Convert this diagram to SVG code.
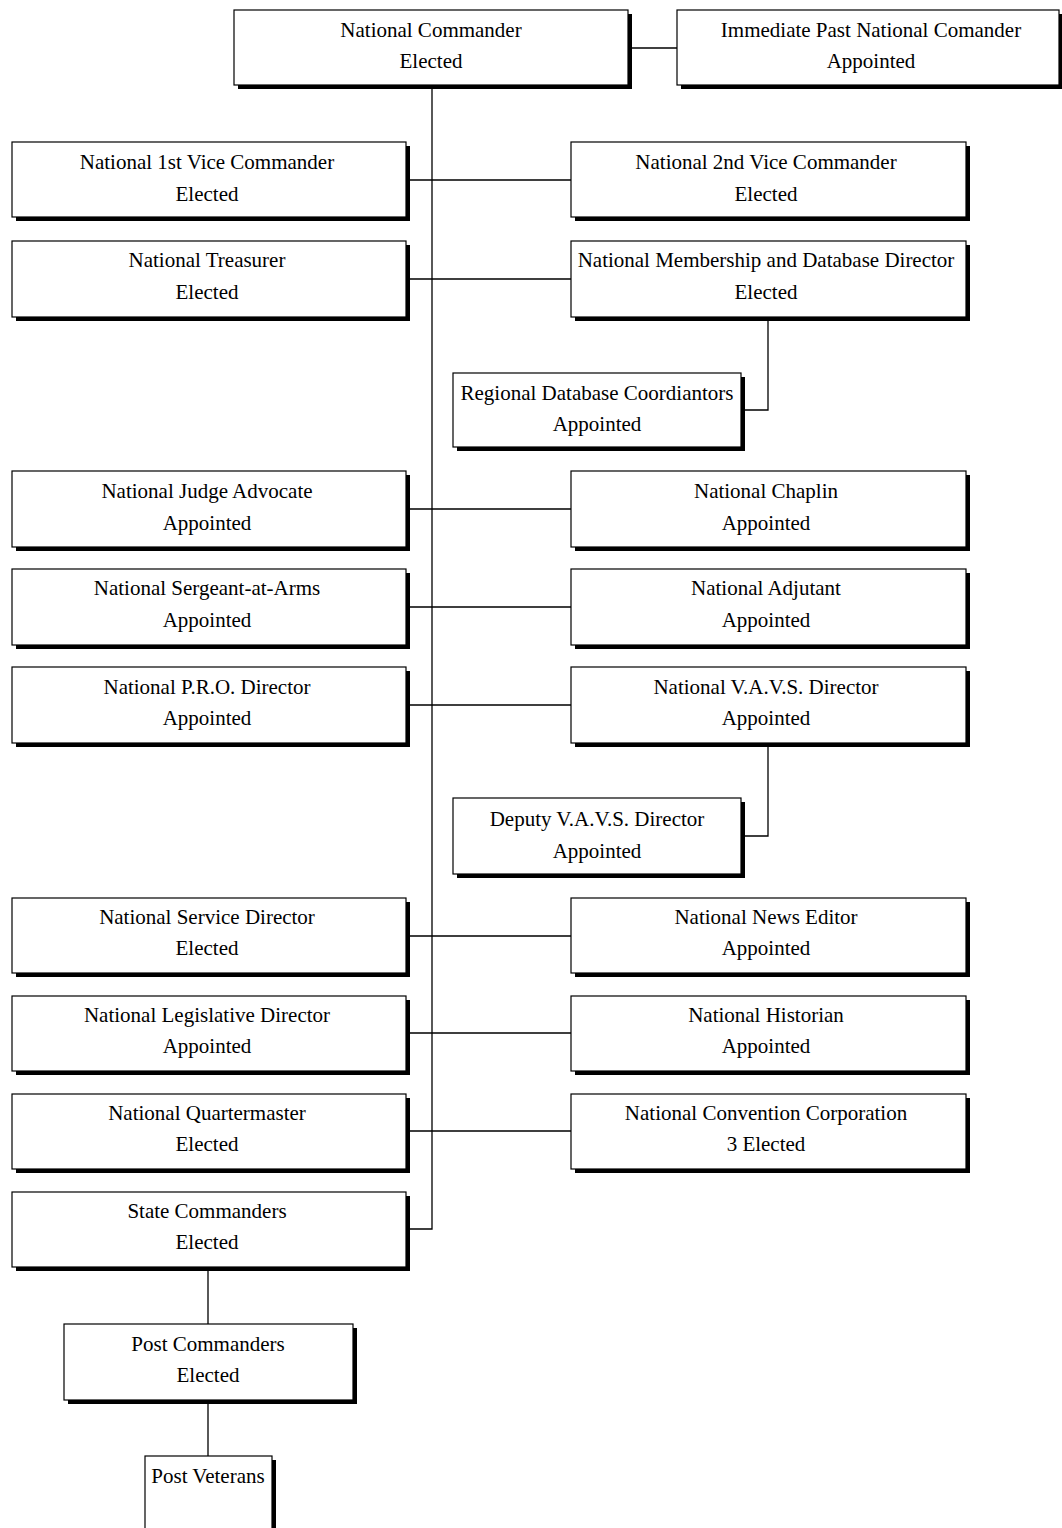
<svg xmlns="http://www.w3.org/2000/svg" width="1062" height="1528" viewBox="0 0 1062 1528">
<style>
.sh{fill:#000}
.bx{fill:#fff;stroke:#000;stroke-width:1.2}
text{font-family:"Liberation Serif","Times New Roman",serif;font-size:21px;fill:#000;text-anchor:middle}
.ln{stroke:#000;stroke-width:1.3;fill:none}
</style>
<rect width="1062" height="1528" fill="#fff"/>
<g id="connectors">
<path class="ln" d="M432 85 V1229 H406"/>
<path class="ln" d="M628 48 H677"/>
<path class="ln" d="M406 180 H571 M406 279 H571 M406 509 H571 M406 607 H571 M406 705 H571 M406 936 H571 M406 1033 H571 M406 1131 H571"/>
<path class="ln" d="M768 317 V410 H741"/>
<path class="ln" d="M768 743 V836 H741"/>
<path class="ln" d="M208 1267 V1324 M208 1400 V1456"/>
</g>
<g id="n-nc"><rect class="sh" x="238" y="14" width="394" height="75"/><rect class="bx" x="234" y="10" width="394" height="75"/><text x="431" y="37">National Commander</text><text x="431" y="68">Elected</text></g>
<g id="n-ip"><rect class="sh" x="681" y="14" width="382" height="75"/><rect class="bx" x="677" y="10" width="382" height="75"/><text x="871" y="37">Immediate Past National Comander</text><text x="871" y="68">Appointed</text></g>
<g id="n-v1"><rect class="sh" x="16" y="146" width="394" height="75"/><rect class="bx" x="12" y="142" width="394" height="75"/><text x="207" y="169">National 1st Vice Commander</text><text x="207" y="201">Elected</text></g>
<g id="n-v2"><rect class="sh" x="575" y="146" width="395" height="75"/><rect class="bx" x="571" y="142" width="395" height="75"/><text x="766" y="169">National 2nd Vice Commander</text><text x="766" y="201">Elected</text></g>
<g id="n-tr"><rect class="sh" x="16" y="245" width="394" height="76"/><rect class="bx" x="12" y="241" width="394" height="76"/><text x="207" y="267">National Treasurer</text><text x="207" y="299">Elected</text></g>
<g id="n-md"><rect class="sh" x="575" y="245" width="395" height="76"/><rect class="bx" x="571" y="241" width="395" height="76"/><text x="766" y="267">National Membership and Database Director</text><text x="766" y="299">Elected</text></g>
<g id="n-rdc"><rect class="sh" x="457" y="377" width="288" height="74"/><rect class="bx" x="453" y="373" width="288" height="74"/><text x="597" y="400">Regional Database Coordiantors</text><text x="597" y="431">Appointed</text></g>
<g id="n-ja"><rect class="sh" x="16" y="475" width="394" height="76"/><rect class="bx" x="12" y="471" width="394" height="76"/><text x="207" y="498">National Judge Advocate</text><text x="207" y="530">Appointed</text></g>
<g id="n-ch"><rect class="sh" x="575" y="475" width="395" height="76"/><rect class="bx" x="571" y="471" width="395" height="76"/><text x="766" y="498">National Chaplin</text><text x="766" y="530">Appointed</text></g>
<g id="n-sa"><rect class="sh" x="16" y="573" width="394" height="76"/><rect class="bx" x="12" y="569" width="394" height="76"/><text x="207" y="595">National Sergeant-at-Arms</text><text x="207" y="627">Appointed</text></g>
<g id="n-ad"><rect class="sh" x="575" y="573" width="395" height="76"/><rect class="bx" x="571" y="569" width="395" height="76"/><text x="766" y="595">National Adjutant</text><text x="766" y="627">Appointed</text></g>
<g id="n-pro"><rect class="sh" x="16" y="671" width="394" height="76"/><rect class="bx" x="12" y="667" width="394" height="76"/><text x="207" y="694">National P.R.O. Director</text><text x="207" y="725">Appointed</text></g>
<g id="n-vavs"><rect class="sh" x="575" y="671" width="395" height="76"/><rect class="bx" x="571" y="667" width="395" height="76"/><text x="766" y="694">National V.A.V.S. Director</text><text x="766" y="725">Appointed</text></g>
<g id="n-dvavs"><rect class="sh" x="457" y="802" width="288" height="76"/><rect class="bx" x="453" y="798" width="288" height="76"/><text x="597" y="826">Deputy V.A.V.S. Director</text><text x="597" y="858">Appointed</text></g>
<g id="n-sd"><rect class="sh" x="16" y="902" width="394" height="75"/><rect class="bx" x="12" y="898" width="394" height="75"/><text x="207" y="924">National Service Director</text><text x="207" y="955">Elected</text></g>
<g id="n-ne"><rect class="sh" x="575" y="902" width="395" height="75"/><rect class="bx" x="571" y="898" width="395" height="75"/><text x="766" y="924">National News Editor</text><text x="766" y="955">Appointed</text></g>
<g id="n-ld"><rect class="sh" x="16" y="1000" width="394" height="75"/><rect class="bx" x="12" y="996" width="394" height="75"/><text x="207" y="1022">National Legislative Director</text><text x="207" y="1053">Appointed</text></g>
<g id="n-hi"><rect class="sh" x="575" y="1000" width="395" height="75"/><rect class="bx" x="571" y="996" width="395" height="75"/><text x="766" y="1022">National Historian</text><text x="766" y="1053">Appointed</text></g>
<g id="n-qm"><rect class="sh" x="16" y="1098" width="394" height="75"/><rect class="bx" x="12" y="1094" width="394" height="75"/><text x="207" y="1120">National Quartermaster</text><text x="207" y="1151">Elected</text></g>
<g id="n-cc"><rect class="sh" x="575" y="1098" width="395" height="75"/><rect class="bx" x="571" y="1094" width="395" height="75"/><text x="766" y="1120">National Convention Corporation</text><text x="766" y="1151">3 Elected</text></g>
<g id="n-sc"><rect class="sh" x="16" y="1196" width="394" height="75"/><rect class="bx" x="12" y="1192" width="394" height="75"/><text x="207" y="1218">State Commanders</text><text x="207" y="1249">Elected</text></g>
<g id="n-pc"><rect class="sh" x="68" y="1328" width="289" height="76"/><rect class="bx" x="64" y="1324" width="289" height="76"/><text x="208" y="1351">Post Commanders</text><text x="208" y="1382">Elected</text></g>
<g id="n-pv"><rect class="sh" x="149" y="1460" width="127" height="80"/><rect class="bx" x="145" y="1456" width="127" height="80"/><text x="208" y="1483">Post Veterans</text></g>
</svg>
